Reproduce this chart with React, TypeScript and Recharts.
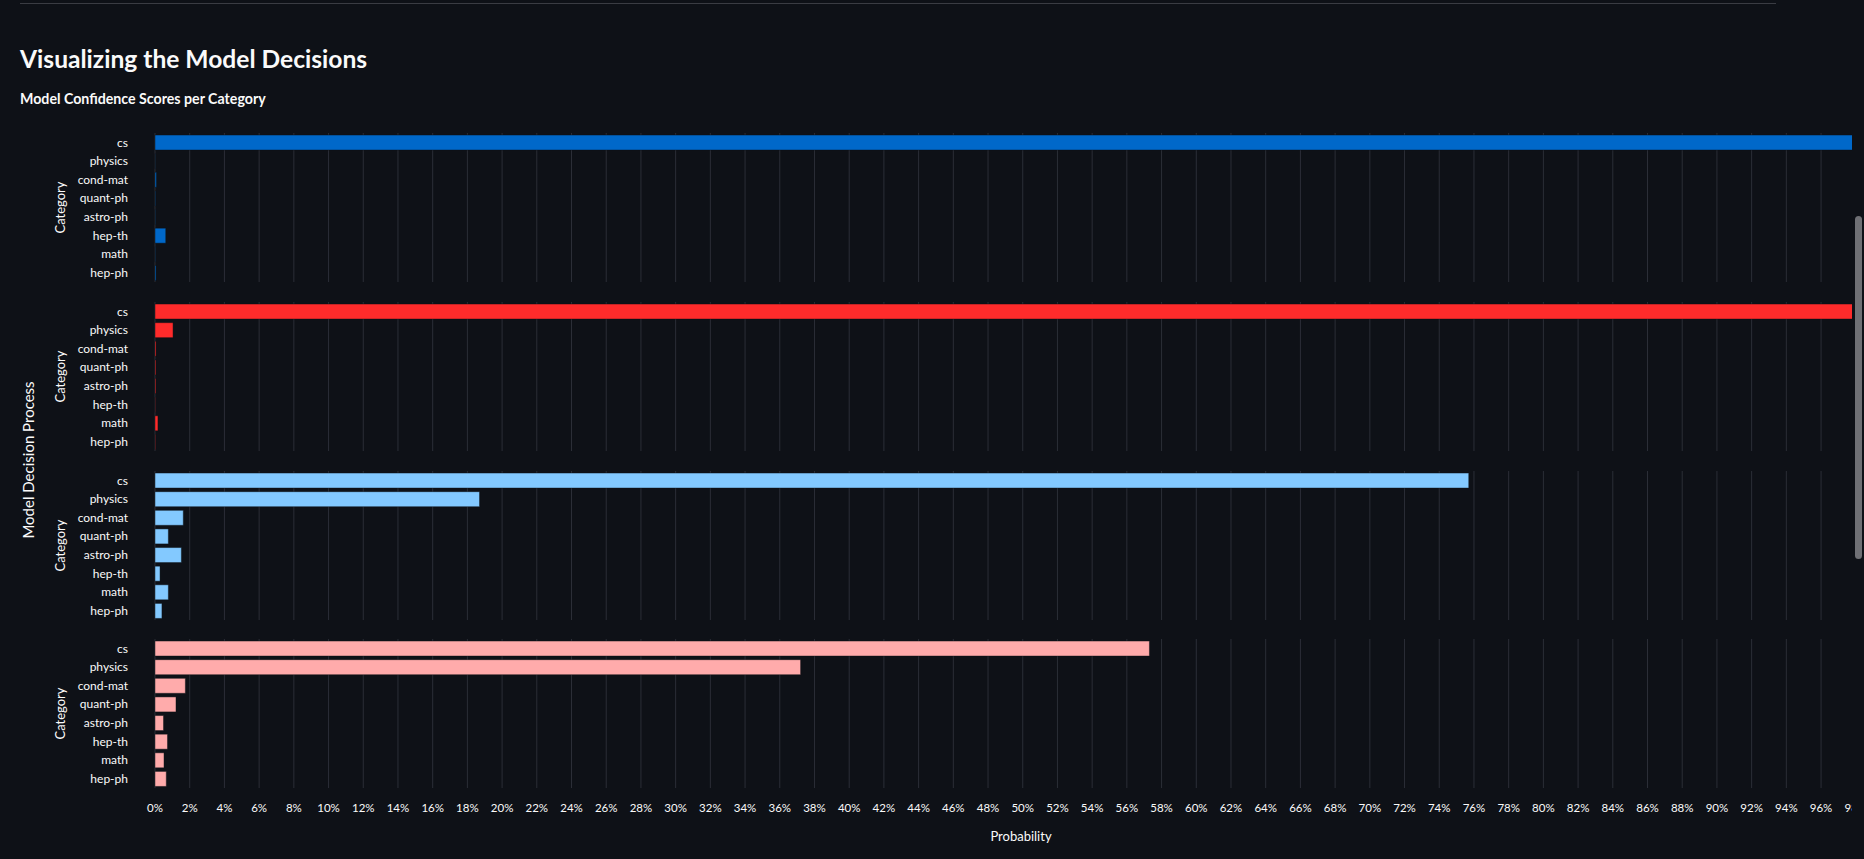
import React from 'react';
import { BarChart, Bar, XAxis, YAxis, CartesianGrid } from 'recharts';

const CATEGORIES = ['cs', 'physics', 'cond-mat', 'quant-ph', 'astro-ph', 'hep-th', 'math', 'hep-ph'];
const STEP1_VALUES = [99.16, 0.01, 0.08, 0.03, 0.02, 0.62, 0.02, 0.06];
const STEP2_VALUES = [98.58, 1.04, 0.06, 0.05, 0.05, 0.02, 0.17, 0.03];
const STEP3_VALUES = [75.7, 18.7, 1.63, 0.77, 1.52, 0.29, 0.77, 0.4];
const STEP4_VALUES = [57.3, 37.2, 1.75, 1.21, 0.49, 0.72, 0.52, 0.65];
const SERIES_COLORS = ['#0068c9', '#ff2b2b', '#83c9ff', '#ffabab'];
const X_TICKS = [0, 2, 4, 6, 8, 10, 12, 14, 16, 18, 20, 22, 24, 26, 28, 30, 32, 34, 36, 38, 40, 42, 44, 46, 48, 50, 52, 54, 56, 58, 60, 62, 64, 66, 68, 70, 72, 74, 76, 78, 80, 82, 84, 86, 88, 90, 92, 94, 96, 98];
const X_DOMAIN: [number, number] = [0, 99.8];

const FONT = '"Source Sans Pro", Lato, sans-serif';
const BG = '#0e1117';
const TEXT = '#fafafa';
const GRID = '#2b2e37';

const PLOT_LEFT = 155;
const PLOT_WIDTH = 1732;
const CHART_WIDTH = 1900;
const PLOT_HEIGHT = 149;
const PANEL_TOPS = [133, 302, 470.5, 639];
const X_AXIS_HEIGHT = 72;

const CategoryLabel = (props: any) => {
  const vb = props.viewBox || { x: 0, y: 0, width: 0, height: 0 };
  const cx = vb.x + 60;
  const cy = vb.y + vb.height / 2;
  return (
    <text x={cx} y={cy} transform={`rotate(-90 ${cx} ${cy})`} textAnchor="middle" dominantBaseline="central" fill={TEXT} fontSize={13} fontFamily={FONT}>
      Category
    </text>
  );
};

const ProbabilityLabel = (props: any) => {
  const vb = props.viewBox || { x: 0, y: 0, width: 0, height: 0 };
  const cx = vb.x + vb.width / 2;
  const cy = vb.y + 48;
  return (
    <text x={cx} y={cy} textAnchor="middle" dominantBaseline="central" fill={TEXT} fontSize={13} fontFamily={FONT}>
      Probability
    </text>
  );
};

const HiddenTick = () => <g />;

function Panel({ values, color, top, showX }: { values: number[]; color: string; top: number; showX: boolean }) {
  const data = CATEGORIES.map((c, i) => ({ category: c, value: values[i] }));
  const h = PLOT_HEIGHT + (showX ? X_AXIS_HEIGHT : 0);
  return (
    <div style={{ position: 'absolute', left: 0, top, width: CHART_WIDTH, height: h }}>
      <BarChart
        width={CHART_WIDTH}
        height={h}
        data={data}
        layout="vertical"
        margin={{ top: 0, right: CHART_WIDTH - PLOT_LEFT - PLOT_WIDTH, bottom: 0, left: 0 }}
        barCategoryGap="11%"
      >
        <CartesianGrid horizontal={false} stroke={GRID} strokeWidth={1} />
        <XAxis
          type="number"
          domain={X_DOMAIN}
          ticks={X_TICKS}
          interval={0}
          height={showX ? X_AXIS_HEIGHT : 0}
          axisLine={false}
          tickLine={false}
          tickSize={0}
          tickMargin={16}
          tick={showX ? { fill: TEXT, fontSize: 11.5, fontFamily: FONT } : HiddenTick}
          tickFormatter={(v: number) => `${v}%`}
          label={showX ? { content: ProbabilityLabel } : undefined}
        />
        <YAxis
          type="category"
          dataKey="category"
          width={PLOT_LEFT}
          interval={0}
          axisLine={false}
          tickLine={false}
          tickSize={0}
          tickMargin={27}
          tick={{ fill: TEXT, fontSize: 12, fontFamily: FONT }}
          label={{ content: CategoryLabel }}
        />
        <Bar dataKey="value" fill={color} stroke="rgba(14,17,23,0.45)" strokeWidth={1} isAnimationActive={false} />
      </BarChart>
    </div>
  );
}

export default function App() {
  const series = [STEP1_VALUES, STEP2_VALUES, STEP3_VALUES, STEP4_VALUES];
  return (
    <div style={{ position: 'fixed', left: 0, top: 0, width: 1864, height: 859, background: BG, overflow: 'hidden', fontFamily: FONT }}>
      <div style={{ position: 'absolute', left: 20, top: 3, width: 1756, height: 1, background: '#3a3c43' }} />
      <div style={{ position: 'absolute', left: 20, top: 42, color: TEXT, fontSize: 24.6, fontWeight: 700, lineHeight: '34px', whiteSpace: 'nowrap' }}>
        Visualizing the Model Decisions
      </div>
      <div style={{ position: 'absolute', left: 20, top: 89, color: TEXT, fontSize: 14.2, fontWeight: 700, lineHeight: '20px', whiteSpace: 'nowrap' }}>
        Model Confidence Scores per Category
      </div>
      <div style={{ position: 'absolute', left: 0, top: 0, width: 1852, height: 859, overflow: 'hidden' }}>
        {series.map((vals, i) => (
          <Panel key={i} values={vals} color={SERIES_COLORS[i]} top={PANEL_TOPS[i]} showX={i === series.length - 1} />
        ))}
        <svg style={{ position: 'absolute', left: 0, top: 0 }} width={60} height={859}>
          <text x={28} y={460} transform="rotate(-90 28 460)" textAnchor="middle" dominantBaseline="central" fill={TEXT} fontSize={15} fontFamily={FONT}>
            Model Decision Process
          </text>
        </svg>
      </div>
      <div style={{ position: 'absolute', left: 1855, top: 216, width: 7, height: 343, borderRadius: 4, background: '#6f7075' }} />
    </div>
  );
}
